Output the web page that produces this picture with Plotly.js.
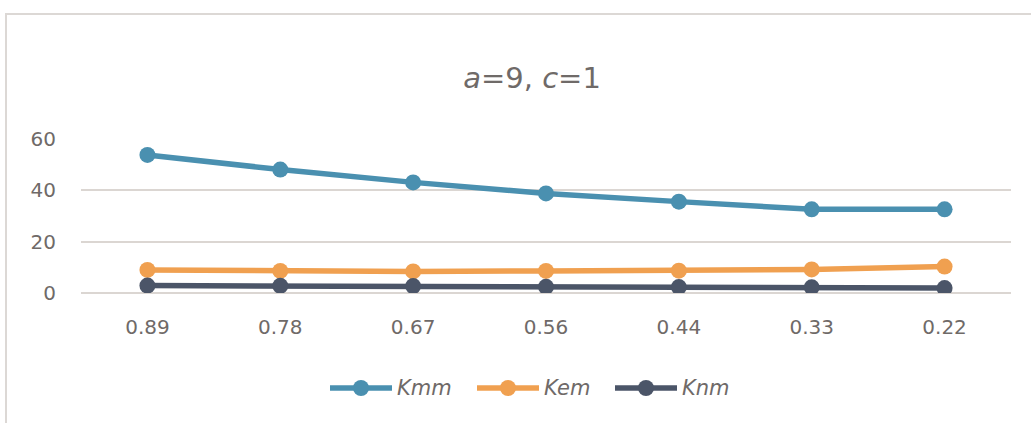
<!DOCTYPE html>
<html>
<head>
<meta charset="utf-8">
<script src="https://cdn.plot.ly/plotly-3.0.1.min.js"></script>
<style>
  html, body { margin: 0; padding: 0; background: #ffffff; }
  #frame {
    position: absolute; left: 5px; top: 13px; width: 1040px; height: 430px;
    border: 2px solid #dcd8d5; box-sizing: border-box; pointer-events: none;
  }
  #chart { position: absolute; left: 0; top: 0; width: 1031px; height: 423px; }
</style>
</head>
<body>
<div id="chart"></div>
<div id="frame"></div>
<script>
// Ratio values on the category axis
const categories = ['0.89', '0.78', '0.67', '0.56', '0.44', '0.33', '0.22'];

// Coefficient series
const Kmm = [53.8, 48.1, 43.1, 38.8, 35.6, 32.6, 32.6];
const Kem = [9.0, 8.6, 8.4, 8.6, 8.7, 9.2, 10.3];
const Knm = [2.9, 2.8, 2.7, 2.4, 2.3, 2.2, 1.9];

const seriesNames = ['Kmm', 'Kem', 'Knm'];
const seriesValues = [Kmm, Kem, Knm];
const seriesColors = ['#4a90b0', '#f0a050', '#4b5568'];

const textColor = '#6f6a68';
const gridColor = '#dbd6d2';
const fontFamily = '"DejaVu Sans", sans-serif';

const traces = seriesNames.map((name, i) => ({
  type: 'scatter',
  mode: 'lines+markers',
  name: name,
  x: categories,
  y: seriesValues[i],
  line: { color: seriesColors[i], width: 5.5 },
  marker: { color: seriesColors[i], size: 16 },
  showlegend: false,
  hoverinfo: 'x+y+name'
}));

// Plot-area geometry in pixels (used to place the legend row below the axis)
const W = 1031, H = 423;
const margin = { l: 81, r: 20, t: 139, b: 130 };
const plotW = W - margin.l - margin.r;
const plotH = H - margin.t - margin.b;
const toPaperX = px => (px - margin.l) / plotW;
const toPaperY = py => (H - margin.b - py) / plotH;

// Legend row: line + dot + italic label for each series
const legendY = 388;
const legendStarts = [330, 477, 615];
const lineLen = 62;
const shapes = [];
const annotations = [];
seriesNames.forEach((name, i) => {
  const x0 = legendStarts[i];
  shapes.push({
    type: 'line', xref: 'paper', yref: 'paper',
    x0: toPaperX(x0), x1: toPaperX(x0 + lineLen),
    y0: toPaperY(legendY), y1: toPaperY(legendY),
    line: { color: seriesColors[i], width: 5.5 }
  });
  shapes.push({
    type: 'circle', xref: 'paper', yref: 'paper',
    xsizemode: 'pixel', ysizemode: 'pixel',
    xanchor: toPaperX(x0 + lineLen / 2), yanchor: toPaperY(legendY),
    x0: -8, x1: 8, y0: -8, y1: 8,
    fillcolor: seriesColors[i], line: { width: 0 }
  });
  annotations.push({
    xref: 'paper', yref: 'paper',
    x: toPaperX(x0 + lineLen + 3), y: toPaperY(legendY),
    xanchor: 'left', yanchor: 'middle', showarrow: false,
    text: '<i>' + name + '</i>',
    font: { family: fontFamily, size: 21, color: textColor }
  });
});

const layout = {
  width: W, height: H,
  margin: margin,
  paper_bgcolor: 'rgba(0,0,0,0)',
  plot_bgcolor: 'rgba(0,0,0,0)',
  font: { family: fontFamily, color: textColor },
  title: {
    text: '<i>a</i>=9, <i>c</i>=1',
    font: { family: fontFamily, size: 29, color: textColor },
    xref: 'container', x: 0.516, xanchor: 'center',
    yref: 'container', y: 1 - 78 / H, yanchor: 'middle'
  },
  xaxis: {
    type: 'category',
    range: [-0.5, categories.length - 0.5],
    showgrid: false, zeroline: false, showline: false,
    ticks: '',
    ticklabelstandoff: 20,
    tickfont: { family: fontFamily, size: 20, color: textColor }
  },
  yaxis: {
    range: [0, 60],
    tickvals: [0, 20, 40, 60],
    showgrid: true, gridcolor: gridColor, gridwidth: 2,
    zeroline: true, zerolinecolor: gridColor, zerolinewidth: 2,
    showline: false, ticks: '',
    ticklabelstandoff: 24,
    tickfont: { family: fontFamily, size: 20, color: textColor }
  },
  shapes: shapes,
  annotations: annotations
};

Plotly.newPlot('chart', traces, layout, { displayModeBar: false, staticPlot: true });
</script>
</body>
</html>
